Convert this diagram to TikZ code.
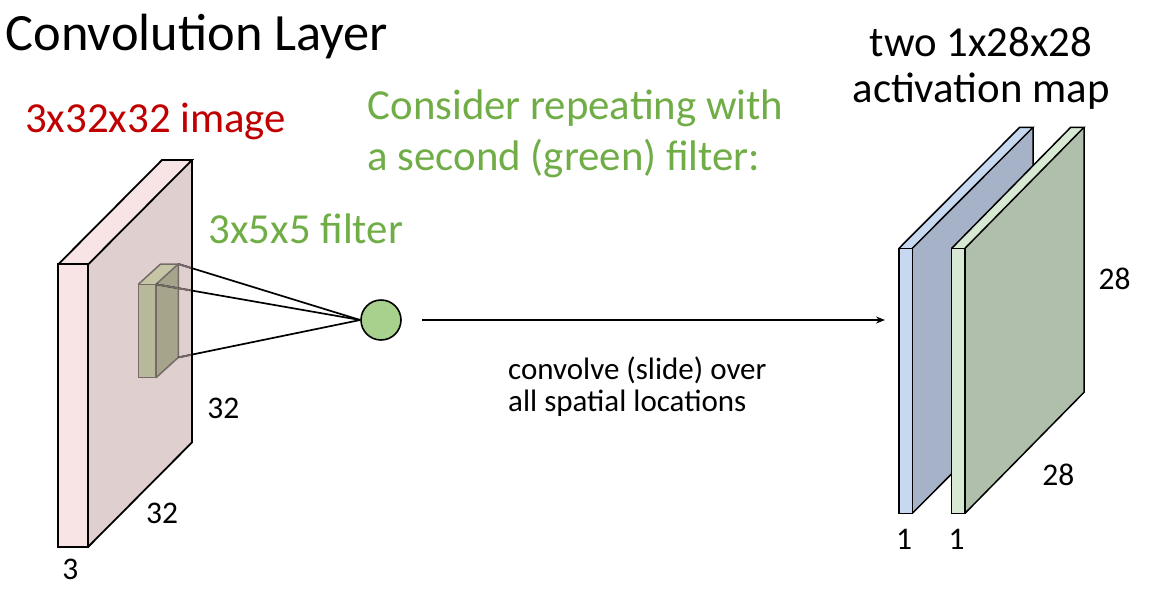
\documentclass[tikz,border=0pt]{standalone}
\usepackage{fontspec}
\setmainfont{Carlito}
\usetikzlibrary{arrows.meta}
\definecolor{imgred}{HTML}{C00000}
\definecolor{txtgreen}{HTML}{70AD47}
\definecolor{pinkfront}{HTML}{F8E4E4}
\definecolor{pinkside}{HTML}{E0CFCF}
\definecolor{filfront}{HTML}{B7B99A}
\definecolor{filside}{HTML}{A6A48B}
\definecolor{filtop}{HTML}{C6C6A6}
\definecolor{filstroke}{HTML}{766A68}
\definecolor{bluefront}{HTML}{C6D9F1}
\definecolor{blueside}{HTML}{A6B2C8}
\definecolor{greenfront}{HTML}{D8E9D3}
\definecolor{greenside}{HTML}{B0BFAB}
\definecolor{neuron}{HTML}{A9D18E}
\begin{document}
\begin{tikzpicture}[x=1pt,y=-1pt,
  blockline/.style={draw=black,line width=1.8pt,line join=miter},
  filline/.style={draw=filstroke,line width=1.5pt,line join=round},
  conn/.style={draw=black,line width=1.7pt},
  titletext/.style={inner sep=0pt,anchor=base west,font=\fontsize{52.4}{62}\selectfont},
  bigtext/.style={inner sep=0pt,font=\fontsize{42.8}{51}\selectfont},
  smalltext/.style={inner sep=0pt,font=\fontsize{31}{36}\selectfont},
  numtext/.style={inner sep=0pt,anchor=base,font=\fontsize{31.5}{37}\selectfont}]
\useasboundingbox (0,0) rectangle (1159,595);

% ---- input image block
\fill[pinkside] (88.3,264.3) -- (192,160) -- (192,442.4) -- (88.3,546.7) -- cycle;
\fill[pinkfront] (58.3,264.3) -- (88.3,264.3) -- (192,160) -- (162,160) -- cycle;
\fill[pinkfront] (58.3,264.3) rectangle (88.3,546.7);
\draw[blockline] (58.3,264.3) rectangle (88.3,546.7);
\draw[blockline] (58.3,264.3) -- (162,160) -- (192,160) -- (88.3,264.3);
\draw[blockline] (192,160) -- (192,442.4) -- (88.3,546.7);

% ---- filter block
\fill[filside] (156,284.3) -- (178.3,264) -- (178.3,357.4) -- (156,377.7) -- cycle;
\fill[filtop] (138.3,284.3) -- (156,284.3) -- (178.3,264) -- (160.6,264) -- cycle;
\fill[filfront] (138.3,284.3) rectangle (156,377.7);
\draw[filline] (138.3,284.3) rectangle (156,377.7);
\draw[filline] (138.3,284.3) -- (160.6,264) -- (178.3,264) -- (156,284.3);
\draw[filline] (178.3,264) -- (178.3,357.4) -- (156,377.7);

\coordinate (fa) at (178.3,264);
\coordinate (fb) at (156,284.3);
\coordinate (fc) at (178.3,357.4);

% ---- neuron
\node[circle,draw=black,line width=1.6pt,fill=neuron,minimum size=40pt,inner sep=0pt] (neu) at (381,320) {};

\draw[conn] (fa) -- (neu.west);
\draw[conn] (fb) -- (neu.west);
\draw[conn] (fc) -- (neu.west);
\begin{scope}
  \clip (88.3,264.3) -- (191,161) -- (191,442.4) -- (88.3,546.7) -- (88.3,160) -- cycle;
  \draw[draw=filstroke,line width=1.7pt] (fa) -- (neu.west);
  \draw[draw=filstroke,line width=1.7pt] (fb) -- (neu.west);
  \draw[draw=filstroke,line width=1.7pt] (fc) -- (neu.west);
\end{scope}

% ---- arrow
\coordinate (as) at (422,320);
\coordinate (ae) at (885,320);
\draw[conn,line width=1.5pt,-{Stealth[length=9pt,width=7pt]}] (as) -- (ae);

% ---- blue activation map
\fill[blueside] (912.3,248.3) -- (1033,127.3) -- (1033,392.3) -- (912.3,513.3) -- cycle;
\fill[bluefront] (899,248.3) -- (912.3,248.3) -- (1033,127.3) -- (1019.7,127.3) -- cycle;
\fill[bluefront] (899,248.3) rectangle (912.3,513.3);
\draw[blockline,line width=1.5pt] (899,248.3) rectangle (912.3,513.3);
\draw[blockline,line width=1.5pt] (899,248.3) -- (1019.7,127.3) -- (1033,127.3) -- (912.3,248.3);
\draw[blockline,line width=1.5pt] (1033,127.3) -- (1033,392.3) -- (912.3,513.3);

% ---- green activation map
\fill[greenside] (965,248.3) -- (1084,127.3) -- (1084,392.3) -- (965,513.3) -- cycle;
\fill[greenfront] (951.7,248.3) -- (965,248.3) -- (1084,127.3) -- (1070.7,127.3) -- cycle;
\fill[greenfront] (951.7,248.3) rectangle (965,513.3);
\draw[blockline,line width=1.5pt] (951.7,248.3) rectangle (965,513.3);
\draw[blockline,line width=1.5pt] (951.7,248.3) -- (1070.7,127.3) -- (1084,127.3) -- (965,248.3);
\draw[blockline,line width=1.5pt] (1084,127.3) -- (1084,392.3) -- (965,513.3);

% ---- texts
\node[titletext] (title) at (5.5,50) {Convolution Layer};
\node[bigtext,anchor=base west,text=imgred] (imglbl) at (25,132) {3x32x32 image};
\node[bigtext,anchor=base west,text=txtgreen] (cons1) at (367.5,119) {Consider repeating with};
\node[bigtext,anchor=base west,text=txtgreen] (cons2) at (367.5,170.5) {a second (green) filter:};
\node[bigtext,anchor=base west,text=txtgreen] (fillbl) at (208.5,243) {3x5x5 filter};
\node[bigtext,anchor=base] (two1) at (981,56) {two 1x28x28};
\node[bigtext,anchor=base] (two2) at (981,102.5) {activation map};
\node[smalltext,anchor=base west] (conv1) at (508,379.3) {convolve (slide) over};
\node[smalltext,anchor=base west] (conv2) at (508,411.7) {all spatial locations};

\node[numtext] (n32a) at (223.3,418.3) {32};
\node[numtext] (n32b) at (162,523.3) {32};
\node[numtext] (n3) at (70.3,579.3) {3};
\node[numtext] (n28a) at (1114.7,289) {28};
\node[numtext] (n28b) at (1058.3,485.7) {28};
\node[numtext] (n1a) at (904.2,549.3) {1};
\node[numtext] (n1b) at (956.7,549.3) {1};
\end{tikzpicture}
\end{document}
